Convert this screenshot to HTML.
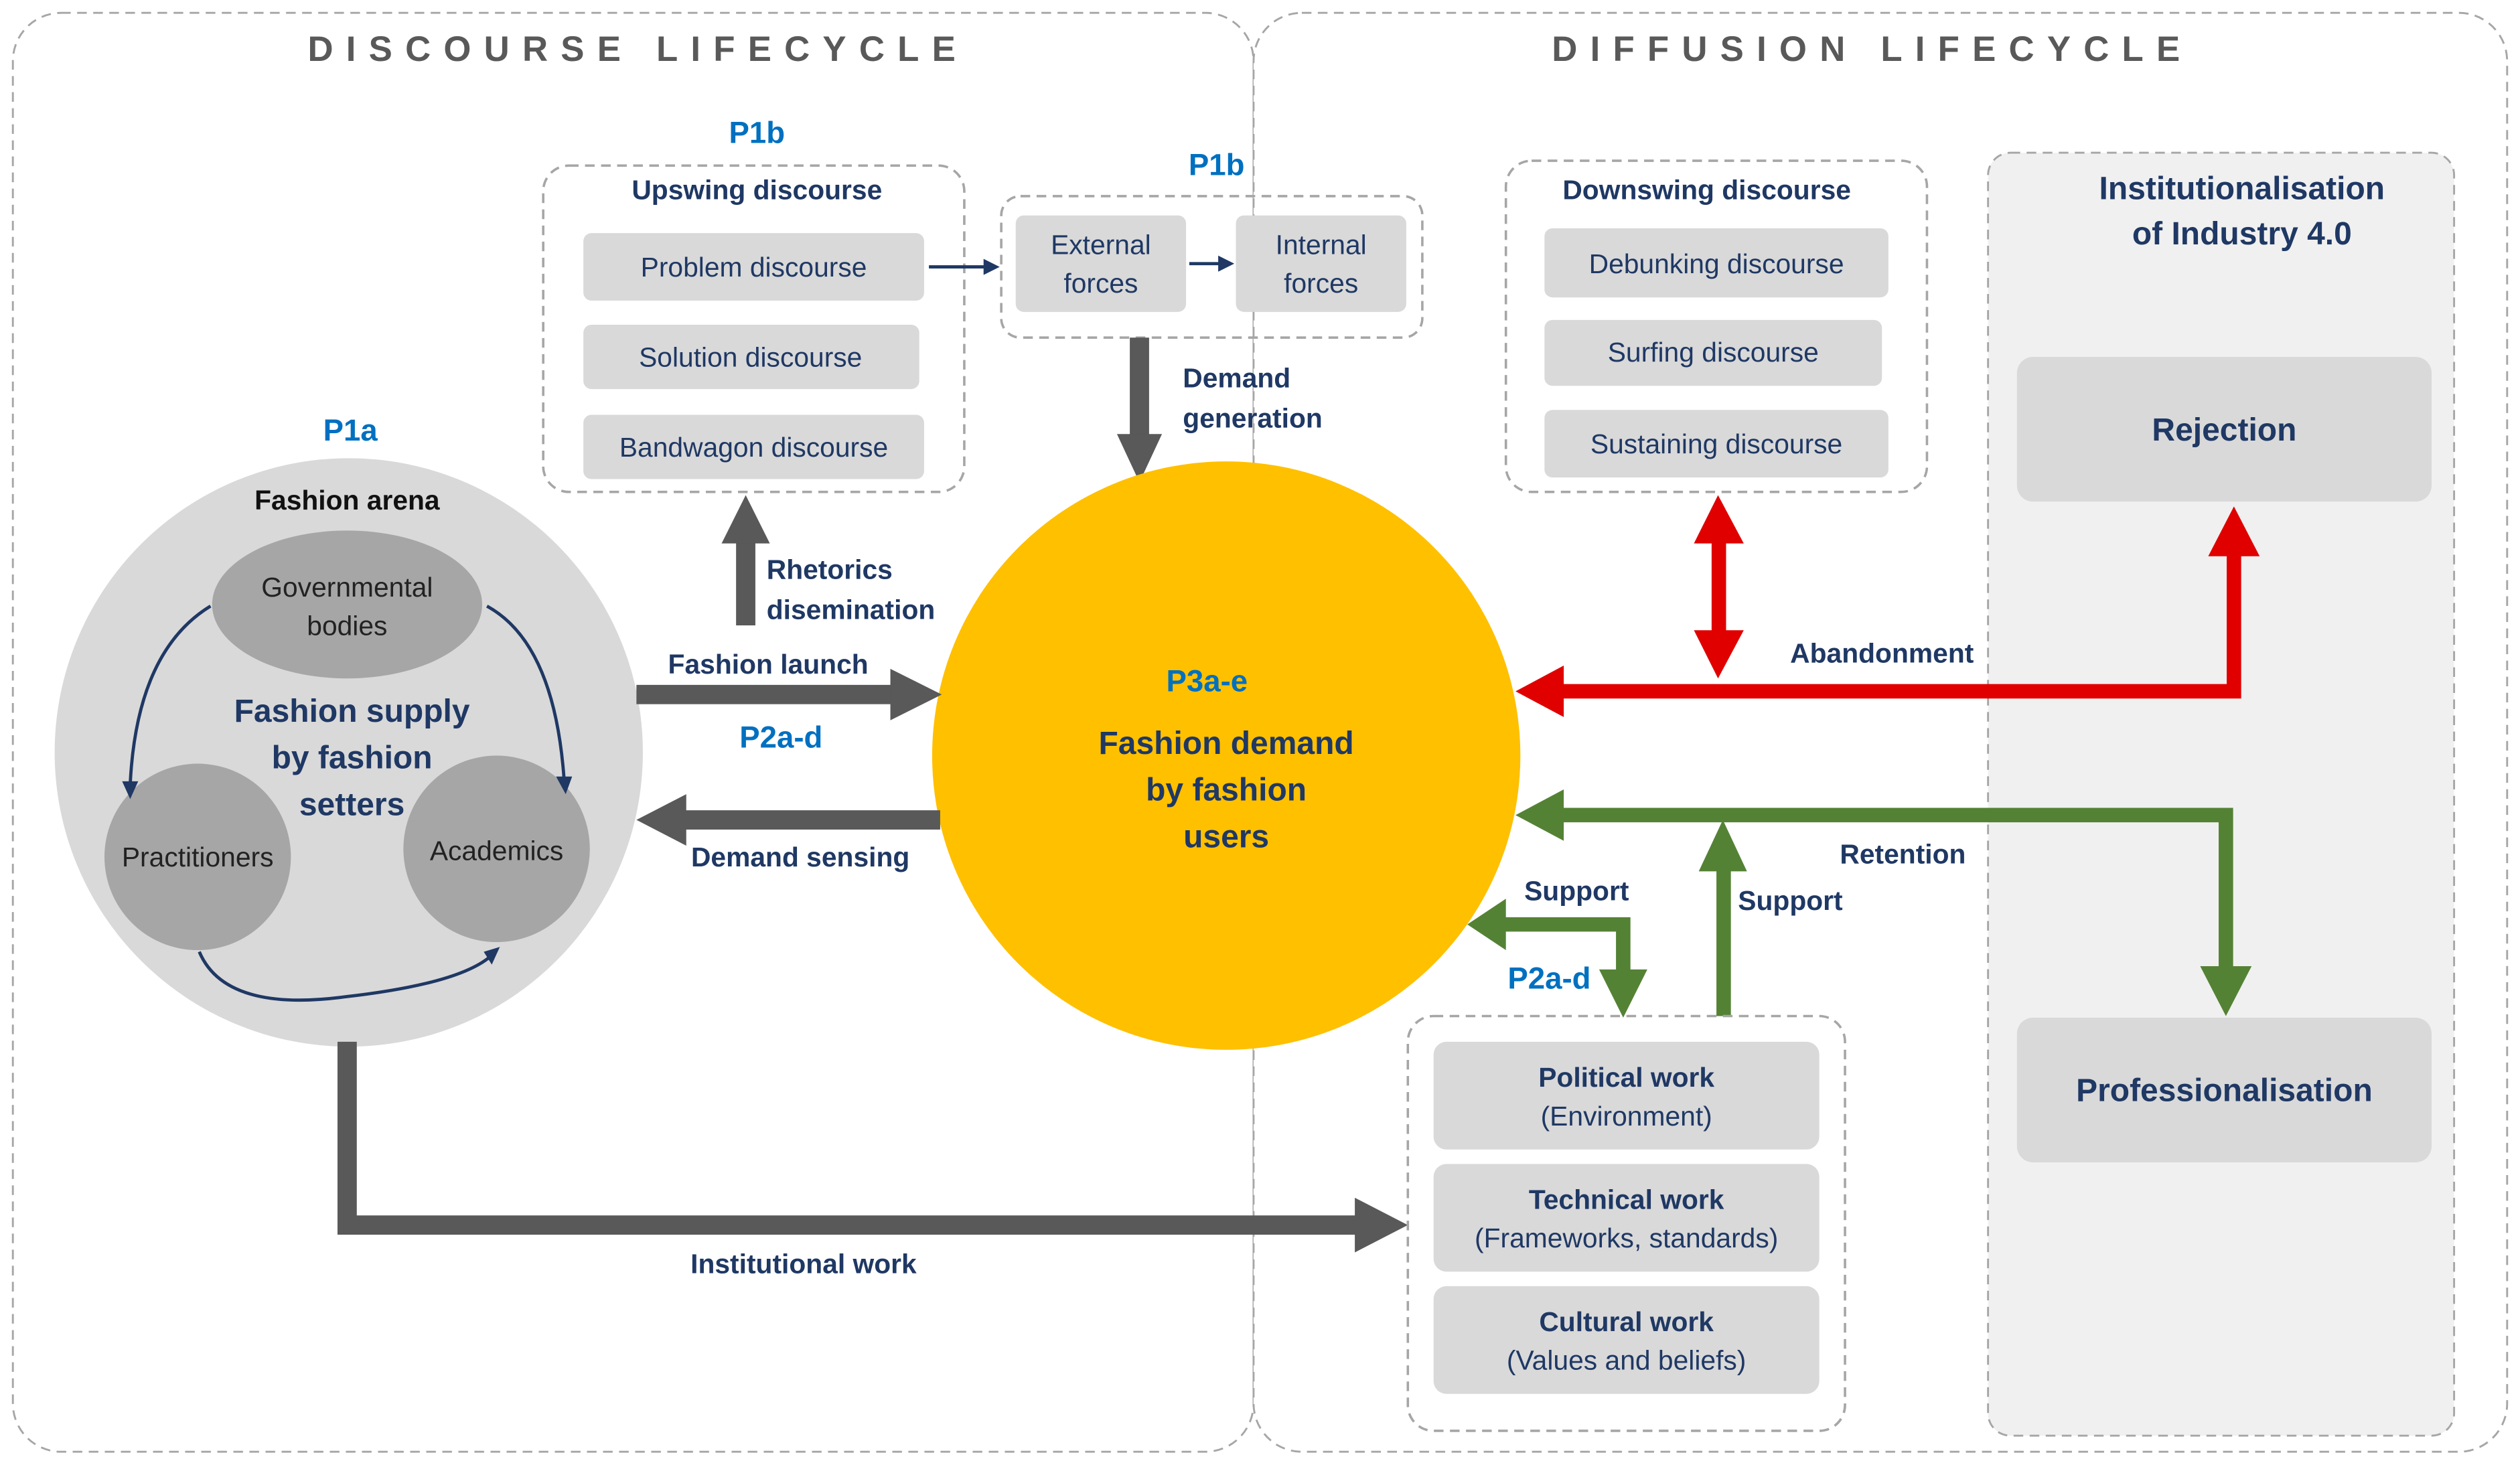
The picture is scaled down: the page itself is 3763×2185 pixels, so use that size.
<!DOCTYPE html>
<html><head><meta charset="utf-8"><style>
html,body{margin:0;padding:0;background:#fff}
svg{display:block}
text{font-family:"Liberation Sans",sans-serif}
.n{fill:#1f3864;font-size:17px}
.b{font-weight:bold}
.big{font-size:20px}
.p{fill:#0070c0;font-size:19px;font-weight:bold}
.box{fill:#d9d9d9}
.dash{fill:none;stroke:#a6a6a6;stroke-width:1.5;stroke-dasharray:6 4}
</style></head><body>
<svg width="3763" height="2185" viewBox="0 0 1568 910" preserveAspectRatio="none" xmlns="http://www.w3.org/2000/svg">
<rect x="0" y="0" width="1568" height="910" fill="#fff"/>
<rect x="8" y="8" width="772" height="895" rx="30" fill="#fff" stroke="#a6a6a6" stroke-width="1.2" stroke-dasharray="6 4"/>
<rect x="780" y="8" width="780" height="895" rx="30" fill="#fff" stroke="#a6a6a6" stroke-width="1.2" stroke-dasharray="6 4"/>
<rect x="1237" y="95" width="290" height="798" rx="14" fill="#f0f0f0" stroke="#a6a6a6" stroke-width="1.2" stroke-dasharray="6 4"/>
<text x="397" y="38" text-anchor="middle" font-size="22" font-weight="bold" fill="#595959" letter-spacing="8">DISCOURSE LIFECYCLE</text>
<text x="1165" y="38" text-anchor="middle" font-size="22" font-weight="bold" fill="#595959" letter-spacing="8">DIFFUSION LIFECYCLE</text>

<text x="471" y="89" text-anchor="middle" class="p">P1b</text>
<rect x="338" y="103" width="262" height="203" rx="16" class="dash"/>
<text x="471" y="124" text-anchor="middle" class="n b">Upswing discourse</text>
<rect x="363" y="145" width="212" height="42" rx="5" class="box"/>
<text x="469" y="172" text-anchor="middle" class="n">Problem discourse</text>
<rect x="363" y="202" width="209" height="40" rx="5" class="box"/>
<text x="467" y="228" text-anchor="middle" class="n">Solution discourse</text>
<rect x="363" y="258" width="212" height="40" rx="5" class="box"/>
<text x="469" y="284" text-anchor="middle" class="n">Bandwagon discourse</text>

<text x="757" y="109" text-anchor="middle" class="p">P1b</text>
<rect x="623" y="122" width="262" height="88" rx="12" class="dash"/>
<rect x="632" y="134" width="106" height="60" rx="5" class="box"/>
<text x="685" y="158" text-anchor="middle" class="n">External</text>
<text x="685" y="182" text-anchor="middle" class="n">forces</text>
<rect x="769" y="134" width="106" height="60" rx="5" class="box"/>
<text x="822" y="158" text-anchor="middle" class="n">Internal</text>
<text x="822" y="182" text-anchor="middle" class="n">forces</text>
<line x1="578" y1="166" x2="614" y2="166" stroke="#1f3864" stroke-width="2"/>
<polygon points="622,166 612,161 612,171" fill="#1f3864"/>
<line x1="740" y1="164" x2="760" y2="164" stroke="#1f3864" stroke-width="2"/>
<polygon points="768,164 758,159 758,169" fill="#1f3864"/>

<rect x="703" y="210" width="12" height="62" fill="#595959"/>
<polygon points="695,270 723,270 709,300" fill="#595959"/>
<text x="736" y="241" class="n b">Demand</text>
<text x="736" y="266" class="n b">generation</text>

<rect x="937" y="100" width="262" height="206" rx="16" class="dash"/>
<text x="1062" y="124" text-anchor="middle" class="n b">Downswing discourse</text>
<rect x="961" y="142" width="214" height="43" rx="5" class="box"/>
<text x="1068" y="170" text-anchor="middle" class="n">Debunking discourse</text>
<rect x="961" y="199" width="210" height="41" rx="5" class="box"/>
<text x="1066" y="225" text-anchor="middle" class="n">Surfing discourse</text>
<rect x="961" y="255" width="214" height="42" rx="5" class="box"/>
<text x="1068" y="282" text-anchor="middle" class="n">Sustaining discourse</text>

<text x="1395" y="124" text-anchor="middle" class="n b big">Institutionalisation</text>
<text x="1395" y="152" text-anchor="middle" class="n b big">of Industry 4.0</text>
<rect x="1255" y="222" width="258" height="90" rx="10" fill="#d9d9d9"/>
<text x="1384" y="274" text-anchor="middle" class="n b big">Rejection</text>
<rect x="1255" y="633" width="258" height="90" rx="10" fill="#d9d9d9"/>
<text x="1384" y="685" text-anchor="middle" class="n b big">Professionalisation</text>

<text x="218" y="274" text-anchor="middle" class="p">P1a</text>
<circle cx="217" cy="468" r="183" fill="#d9d9d9"/>
<text x="216" y="317" text-anchor="middle" font-size="17" font-weight="bold" fill="#111">Fashion arena</text>
<ellipse cx="216" cy="376" rx="84" ry="46" fill="#a6a6a6"/>
<text x="216" y="371" text-anchor="middle" font-size="17" fill="#222">Governmental</text>
<text x="216" y="395" text-anchor="middle" font-size="17" fill="#222">bodies</text>
<circle cx="123" cy="533" r="58" fill="#a6a6a6"/>
<text x="123" y="539" text-anchor="middle" font-size="17" fill="#222">Practitioners</text>
<circle cx="309" cy="528" r="58" fill="#a6a6a6"/>
<text x="309" y="535" text-anchor="middle" font-size="17" fill="#222">Academics</text>
<text x="219" y="449" text-anchor="middle" class="n b big">Fashion supply</text>
<text x="219" y="478" text-anchor="middle" class="n b big">by fashion</text>
<text x="219" y="507" text-anchor="middle" class="n b big">setters</text>
<path d="M131,377 Q85,405 81,488" fill="none" stroke="#1f3864" stroke-width="2"/>
<polygon points="81,497 76,486 86,486" fill="#1f3864"/>
<path d="M303,377 Q345,400 351,485" fill="none" stroke="#1f3864" stroke-width="2"/>
<polygon points="352,494 346,483 356,483" fill="#1f3864"/>
<path d="M124,592 Q140,630 215,620 Q285,612 305,595" fill="none" stroke="#1f3864" stroke-width="2"/>
<polygon points="311,589 301,592 306,600" fill="#1f3864"/>

<circle cx="763" cy="470" r="183" fill="#ffc000"/>
<text x="751" y="430" text-anchor="middle" class="p">P3a-e</text>
<text x="763" y="469" text-anchor="middle" class="n b big">Fashion demand</text>
<text x="763" y="498" text-anchor="middle" class="n b big">by fashion</text>
<text x="763" y="527" text-anchor="middle" class="n b big">users</text>

<rect x="396" y="426" width="160" height="12" fill="#595959"/>
<polygon points="554,416 554,448 586,432" fill="#595959"/>
<text x="478" y="419" text-anchor="middle" class="n b">Fashion launch</text>
<text x="486" y="465" text-anchor="middle" class="p">P2a-d</text>
<rect x="425" y="504" width="160" height="12" fill="#595959"/>
<polygon points="427,494 427,526 396,510" fill="#595959"/>
<text x="498" y="539" text-anchor="middle" class="n b">Demand sensing</text>
<rect x="458" y="336" width="12" height="53" fill="#595959"/>
<polygon points="449,338 479,338 464,308" fill="#595959"/>
<text x="477" y="360" class="n b">Rhetorics</text>
<text x="477" y="385" class="n b">disemination</text>
<polyline points="216,648 216,762 845,762" fill="none" stroke="#595959" stroke-width="12"/>
<polygon points="843,745 843,779 876,762" fill="#595959"/>
<text x="500" y="792" text-anchor="middle" class="n b">Institutional work</text>

<polyline points="970,430 1390,430 1390,343" fill="none" stroke="#e00000" stroke-width="9"/>
<polygon points="973,414 973,446 943,430" fill="#e00000"/>
<polygon points="1374,346 1406,346 1390,315" fill="#e00000"/>
<rect x="1065" y="336" width="9" height="58" fill="#e00000"/>
<polygon points="1054,338 1085,338 1069,308" fill="#e00000"/>
<polygon points="1054,392 1085,392 1069,422" fill="#e00000"/>
<text x="1171" y="412" text-anchor="middle" class="n b">Abandonment</text>

<polyline points="970,507 1385,507 1385,603" fill="none" stroke="#548235" stroke-width="9"/>
<polygon points="973,491 973,523 943,507" fill="#548235"/>
<polygon points="1369,601 1401,601 1385,632" fill="#548235"/>
<rect x="1068" y="540" width="9" height="92" fill="#548235"/>
<polygon points="1057,542 1087,542 1072,510" fill="#548235"/>
<text x="1184" y="537" text-anchor="middle" class="n b">Retention</text>
<text x="1114" y="566" text-anchor="middle" class="n b">Support</text>
<polyline points="935,575 1010,575 1010,605" fill="none" stroke="#548235" stroke-width="9"/>
<polygon points="937,559 937,591 913,575" fill="#548235"/>
<polygon points="995,603 1025,603 1010,633" fill="#548235"/>
<text x="981" y="560" text-anchor="middle" class="n b">Support</text>
<text x="964" y="615" text-anchor="middle" class="p">P2a-d</text>

<rect x="876" y="632" width="272" height="258" rx="16" class="dash"/>
<rect x="892" y="648" width="240" height="67" rx="8" class="box"/>
<text x="1012" y="676" text-anchor="middle" class="n b">Political work</text>
<text x="1012" y="700" text-anchor="middle" class="n">(Environment)</text>
<rect x="892" y="724" width="240" height="67" rx="8" class="box"/>
<text x="1012" y="752" text-anchor="middle" class="n b">Technical work</text>
<text x="1012" y="776" text-anchor="middle" class="n">(Frameworks, standards)</text>
<rect x="892" y="800" width="240" height="67" rx="8" class="box"/>
<text x="1012" y="828" text-anchor="middle" class="n b">Cultural work</text>
<text x="1012" y="852" text-anchor="middle" class="n">(Values and beliefs)</text>
</svg>
</body></html>
